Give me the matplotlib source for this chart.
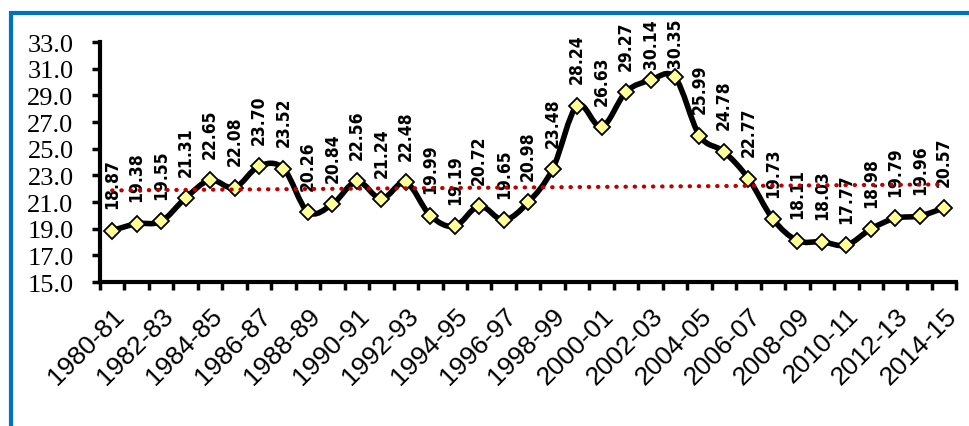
import numpy as np
import matplotlib.pyplot as plt
from matplotlib.path import Path
from matplotlib.patches import PathPatch, Rectangle
from matplotlib import font_manager

years = ['1980-81', '1981-82', '1982-83', '1983-84', '1984-85', '1985-86', '1986-87',
         '1987-88', '1988-89', '1989-90', '1990-91', '1991-92', '1992-93', '1993-94',
         '1994-95', '1995-96', '1996-97', '1997-98', '1998-99', '1999-00', '2000-01',
         '2001-02', '2002-03', '2003-04', '2004-05', '2005-06', '2006-07', '2007-08',
         '2008-09', '2009-10', '2010-11', '2011-12', '2012-13', '2013-14', '2014-15']
values = [18.87, 19.38, 19.55, 21.31, 22.65, 22.08, 23.70, 23.52, 20.26, 20.84,
          22.56, 21.24, 22.48, 19.99, 19.19, 20.72, 19.65, 20.98, 23.48, 28.24,
          26.63, 29.27, 30.14, 30.35, 25.99, 24.78, 22.77, 19.73, 18.11, 18.03,
          17.77, 18.98, 19.79, 19.96, 20.57]
yticks = np.arange(15, 34, 2)


def smooth_path(x, y, t=1 / 6):
    # Catmull-Rom style bezier, like Excel's smoothed line
    verts = [(x[0], y[0])]
    codes = [Path.MOVETO]
    n = len(x)
    for i in range(n - 1):
        x0, y0 = (x[i - 1], y[i - 1]) if i > 0 else (x[i], y[i])
        x3, y3 = (x[i + 2], y[i + 2]) if i + 2 < n else (x[i + 1], y[i + 1])
        c1 = (x[i] + (x[i + 1] - x0) * t, y[i] + (y[i + 1] - y0) * t)
        c2 = (x[i + 1] - (x3 - x[i]) * t, y[i + 1] - (y3 - y[i]) * t)
        verts += [c1, c2, (x[i + 1], y[i + 1])]
        codes += [Path.CURVE4] * 3
    return Path(verts, codes)


# narrow bold face for the data labels, if one is around
label_font = None
for f in font_manager.fontManager.ttflist:
    low = f.fname.lower()
    if ('narrow' in low or 'condensed' in low) and 'bold' in low and 'oblique' not in low \
            and 'italic' not in low and ('liberation' in low or 'dejavusans' in low):
        label_font = f.fname
        if 'liberation' in low:
            break
label_kw = {'fontproperties': font_manager.FontProperties(fname=label_font, size=12.5)} \
    if label_font else {'fontsize': 12, 'fontweight': 'bold'}

x = np.arange(len(values))
y = np.array(values)

fig = plt.figure(figsize=(9.7, 4.27), dpi=100)
ax = fig.add_axes([0.103, 0.337, 0.883, 0.562])

ax.add_patch(PathPatch(smooth_path(x, y), fill=False, lw=4, color='black',
                       capstyle='round', joinstyle='round', zorder=3))
ax.plot(x, y, ls='none', marker='D', ms=8, mfc='#FFFF99', mec='black', mew=1.3,
        zorder=4)

slope, icpt = np.polyfit(x, y, 1)
ax.plot(x, slope * x + icpt, ls=(0, (0.1, 2.1)), lw=3, color='#C00000',
        dash_capstyle='round', zorder=5)

labels = []
for xi, yi in zip(x, y):
    labels.append(ax.annotate(f'{yi:.2f}', (xi, yi), xytext=(0, 16),
                              textcoords='offset points', rotation=90, ha='center',
                              va='bottom', zorder=2, **label_kw))

ax.set_xlim(-0.5, len(values) - 0.5)
ax.set_ylim(15, 33)
ax.set_yticks(yticks)
ax.set_yticklabels([f'{v:.1f}' for v in yticks], family='Liberation Serif', fontsize=19)

ax.set_xticks(np.arange(-0.5, len(values), 1))
ax.set_xticklabels([])
ax.set_xticks(x[::2], minor=True)
ax.set_xticklabels(years[::2], minor=True, rotation=45, ha='right',
                   rotation_mode='anchor', fontsize=19, family='Liberation Sans')
ax.tick_params(axis='x', which='minor', length=0, pad=15)
ax.tick_params(axis='both', which='major', length=6, width=2.5, direction='out')
ax.tick_params(axis='y', pad=13)

for s in ['top', 'right']:
    ax.spines[s].set_visible(False)
for s in ['left', 'bottom']:
    ax.spines[s].set_linewidth(3)

fig.add_artist(Rectangle((11 / 970, -0.1), 1.5, 1.1 - 13.5 / 427, transform=fig.transFigure,
                         fill=False, ec='#0070C0', lw=3))

# keep labels inside the chart, as Excel does
fig.canvas.draw()
top = fig.bbox.height - 19
for lab in labels:
    y1 = lab.get_window_extent().y1
    if y1 > top:
        lab.set_position((0, 16 - (y1 - top) * 72 / fig.dpi))

fig.savefig('out.png', dpi=100)
plt.close(fig)
